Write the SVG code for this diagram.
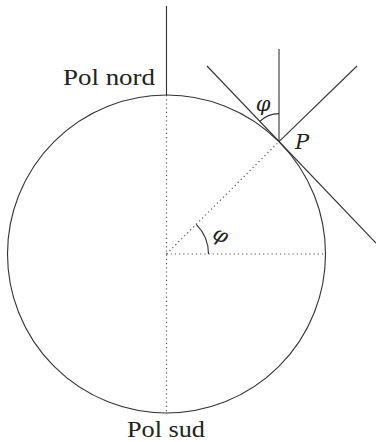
<svg xmlns="http://www.w3.org/2000/svg" width="376" height="442" viewBox="0 0 376 442">
<style>
.ln{stroke:#333;stroke-width:1.1;fill:none}
.dt{stroke:#555;stroke-width:1.2;fill:none;stroke-dasharray:1.2 3;stroke-linecap:butt}
.lb{font-family:"Liberation Serif","DejaVu Serif",serif;fill:#222}
.it{font-family:"DejaVu Serif","Liberation Serif",serif;font-style:italic;fill:#222}
</style>
<rect width="376" height="442" fill="#fff"/>
<g id="connectors">
<line class="dt" x1="166.5" y1="95" x2="166.5" y2="413"/>
<line class="dt" x1="166.5" y1="254" x2="325.5" y2="254"/>
<line class="dt" x1="166.5" y1="254" x2="279" y2="141.6"/>
<line class="ln" x1="166.5" y1="6" x2="166.5" y2="95"/>
<line class="ln" x1="279" y1="49" x2="279" y2="141.6"/>
<line class="ln" x1="207" y1="66" x2="376" y2="243"/>
<line class="ln" x1="279" y1="141.6" x2="357" y2="66"/>
<path class="ln" d="M208.5,254 A42,42 0 0 0 196.2,224.3"/>
<path class="ln" d="M279,113.6 A28,28 0 0 0 259.7,121.3"/>
</g>
<g id="earth">
<circle class="ln" cx="166.5" cy="254" r="159"/>
</g>
<g id="labels">
<text class="lb" x="155" y="85" font-size="24" text-anchor="end" textLength="92" lengthAdjust="spacingAndGlyphs">Pol nord</text>
<text class="lb" x="166" y="437" font-size="23" text-anchor="middle" textLength="78" lengthAdjust="spacingAndGlyphs">Pol sud</text>
<text class="it" x="295" y="149" font-size="21">P</text>
<text class="it" x="263" y="111" font-size="21" text-anchor="middle">φ</text>
<text class="it" x="0" y="0" font-size="21" text-anchor="middle" transform="translate(218,241) rotate(25)">φ</text>
</g>
</svg>
